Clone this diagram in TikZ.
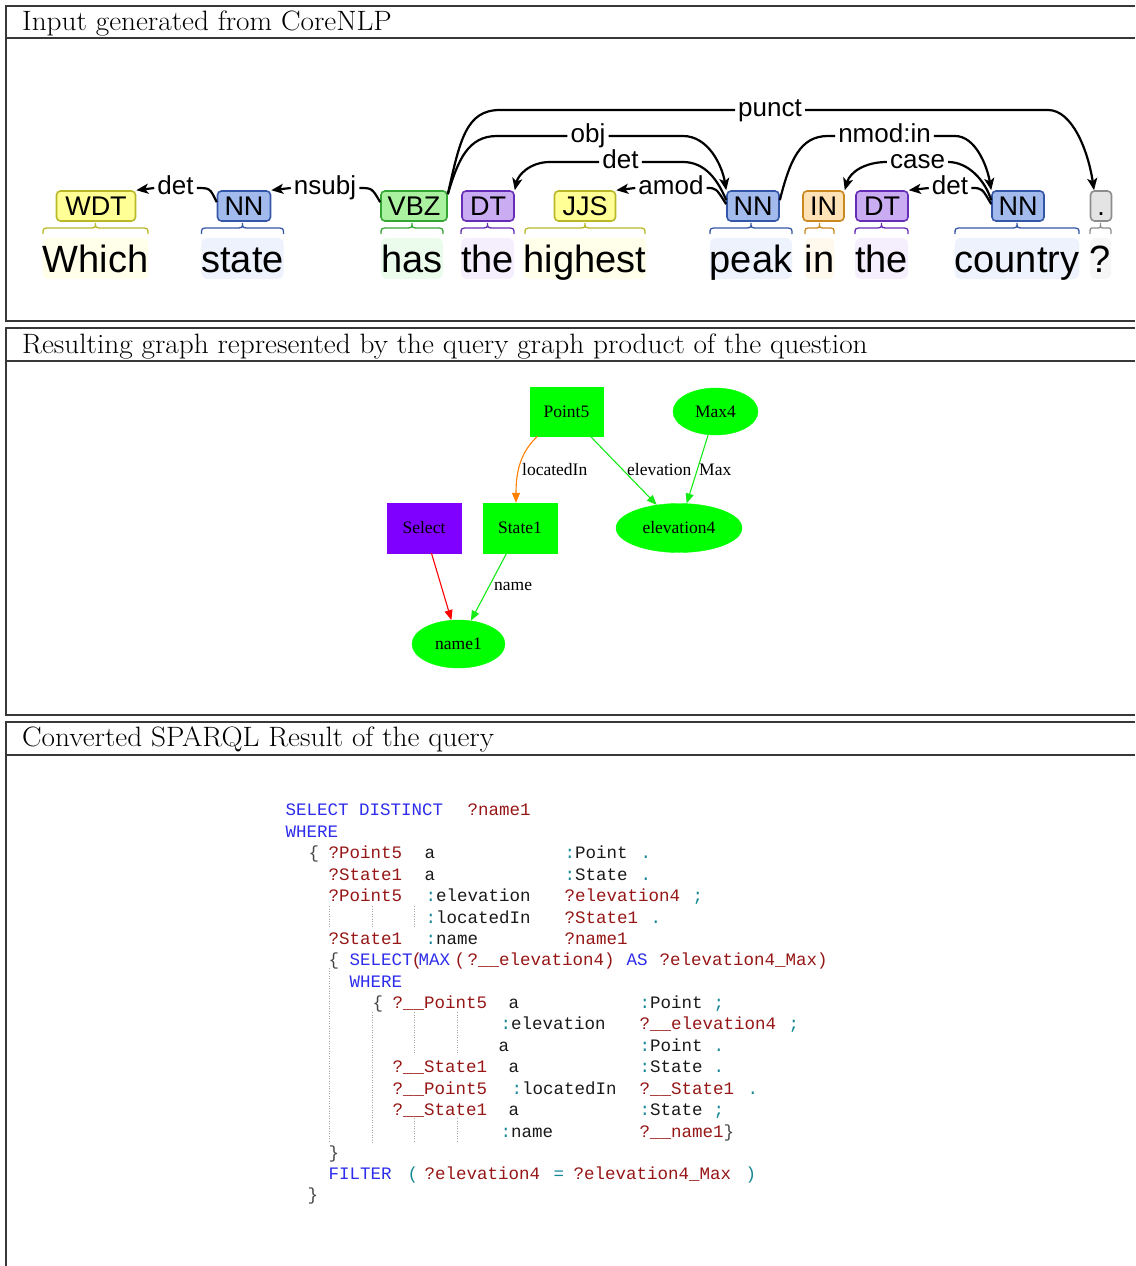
\documentclass[tikz,border=0pt]{standalone}
\usepackage{fontspec}
\newfontfamily\depfont{Liberation Sans}
\newfontfamily\gvfont{Liberation Serif}
\newfontfamily\codefont{Liberation Mono}
\usetikzlibrary{arrows.meta,shapes.geometric}

% part-of-speech tag colours (fill / border / word background)
\definecolor{tagYf}{RGB}{255,255,150}\definecolor{tagYd}{RGB}{185,185,40}\definecolor{tagYw}{RGB}{255,255,234}
\definecolor{tagBf}{RGB}{162,186,236}\definecolor{tagBd}{RGB}{52,86,166}\definecolor{tagBw}{RGB}{237,242,252}
\definecolor{tagGf}{RGB}{170,242,160}\definecolor{tagGd}{RGB}{52,166,52}\definecolor{tagGw}{RGB}{236,252,236}
\definecolor{tagPf}{RGB}{202,172,242}\definecolor{tagPd}{RGB}{102,46,182}\definecolor{tagPw}{RGB}{245,238,252}
\definecolor{tagOf}{RGB}{255,226,182}\definecolor{tagOd}{RGB}{202,136,32}\definecolor{tagOw}{RGB}{255,248,236}
\definecolor{tagKf}{RGB}{228,228,228}\definecolor{tagKd}{RGB}{140,140,140}\definecolor{tagKw}{RGB}{246,246,246}
% graph colours
\definecolor{gvgreen}{RGB}{0,255,0}
\definecolor{gvedge}{RGB}{20,235,20}
\definecolor{gvpurple}{RGB}{127,0,255}
\definecolor{gvorange}{RGB}{255,128,0}
\definecolor{gvred}{RGB}{255,0,0}
% SPARQL highlighting colours
\definecolor{codekw}{RGB}{45,45,235}
\definecolor{codevar}{RGB}{150,22,22}
\definecolor{codepn}{RGB}{20,135,150}
\definecolor{codebr}{RGB}{70,70,70}
\definecolor{codetx}{RGB}{25,25,25}

% code helpers: place a token at a given horizontal offset of its line
\newcommand\cpos[2]{\makebox[0pt][l]{\hspace*{#1pt}#2}}
\newcommand\ckw[1]{\textcolor{codekw}{#1}}
\newcommand\cvar[1]{\textcolor{codevar}{#1}}
\newcommand\cpn[1]{\textcolor{codepn}{#1}}
\newcommand\cbr[1]{\textcolor{codebr}{#1}}
% panel heading text, slightly widened
\newcommand\hdrtext[1]{\scalebox{1.045}[1]{#1}}
% curly brace under a token: left x, right x, colour, corner size
\newcommand\depbrace[4]{%
  \draw[tokbrace,#3] (#1,234) .. controls (#1,228) .. ({#1+#4},228)
    -- ({(#1+#2)/2-#4},228) .. controls ({(#1+#2)/2},228) .. ({(#1+#2)/2},223)
    .. controls ({(#1+#2)/2},228) .. ({(#1+#2)/2+#4},228)
    -- ({#2-#4},228) .. controls (#2,228) .. (#2,234);}

\begin{document}
\begin{tikzpicture}[x=1pt,y=-1pt,
  frame/.style={line width=1.3pt,draw=black!78},
  hdr/.style={anchor=base west,inner sep=0pt,font=\fontsize{28}{32}\selectfont},
  tag/.style={draw,rounded corners=4pt,line width=1.6pt,inner sep=0pt,minimum height=30pt,
    font=\depfont\fontsize{27}{27}\selectfont,text height=19.5pt,text depth=0pt},
  tagY/.style={tag,fill=tagYf,draw=tagYd},
  tagB/.style={tag,fill=tagBf,draw=tagBd},
  tagG/.style={tag,fill=tagGf,draw=tagGd},
  tagP/.style={tag,fill=tagPf,draw=tagPd},
  tagO/.style={tag,fill=tagOf,draw=tagOd},
  tagK/.style={tag,fill=tagKf,draw=tagKd},
  word/.style={rounded corners=6pt,inner sep=0pt,minimum height=41pt,
    font=\depfont\fontsize{38}{38}\selectfont,text height=32pt,text depth=5pt},
  tokbrace/.style={line width=1.3pt},
  rel/.style={inner xsep=3pt,inner ysep=0pt,font=\depfont\fontsize{26}{26}\selectfont,
    text height=13.5pt,text depth=0pt},
  arcline/.style={line width=2.2pt,black},
  arcarrow/.style={arcline,-{Stealth[length=12pt,width=10pt,inset=3pt]}},
  gnode/.style={inner sep=0pt,font=\gvfont\fontsize{17.5}{17.5}\selectfont},
  gbox/.style={gnode,rectangle,fill=gvgreen,draw=gvgreen},
  gell/.style={gnode,ellipse,fill=gvgreen,draw=gvgreen},
  glabel/.style={anchor=west,inner sep=0pt,font=\gvfont\fontsize{17.5}{17.5}\selectfont},
  gedge/.style={line width=1.1pt,-{Triangle[length=10pt,width=8pt]}},
  cline/.style={anchor=base west,inner sep=0pt,text=codetx,font=\codefont\fontsize{17.5}{20}\selectfont},
  guide/.style={draw=black!35,line width=0.8pt,dash pattern=on 1pt off 1.5pt}
]
\useasboundingbox (0,0) rectangle (1135,1266);

% ---------- panel frames ----------
\draw[frame] (1135,6) -- (6,6) -- (6,321) -- (1135,321);
\draw[frame] (6,38) -- (1135,38);
\draw[frame] (1135,328) -- (6,328) -- (6,715) -- (1135,715);
\draw[frame] (6,361) -- (1135,361);
\draw[frame] (1135,722) -- (6,722) -- (6,1266);
\draw[frame] (6,755) -- (1135,755);

\node[hdr] (h1) at (22,30) {\hdrtext{Input generated from CoreNLP}};
\node[hdr] (h2) at (22,353) {\hdrtext{Resulting graph represented by the query graph product of the question}};
\node[hdr] (h3) at (22,746) {\hdrtext{Converted SPARQL Result of the query}};

% ---------- dependency parse ----------
\node[word,fill=tagYw,minimum width=105pt] (w1) at (95.5,258.5) {Which};
\node[word,fill=tagBw,minimum width=82pt] (w2) at (242.5,258.5) {state};
\node[word,fill=tagGw,minimum width=62pt] (w3) at (412,258.5) {has};
\node[word,fill=tagPw,minimum width=53pt] (w4) at (487.5,258.5) {the};
\node[word,fill=tagYw,minimum width=120pt] (w5) at (585,258.5) {highest};
\node[word,fill=tagBw,minimum width=82pt] (w6) at (751,258.5) {peak};
\node[word,fill=tagOw,minimum width=29pt] (w7) at (819.5,258.5) {in};
\node[word,fill=tagPw,minimum width=53pt] (w8) at (881.5,258.5) {the};
\node[word,fill=tagBw,minimum width=124pt] (w9) at (1017,258.5) {country};
\node[word,fill=tagKw,minimum width=21pt] (w10) at (1100.5,258.5) {?};

\depbrace{43}{148}{tagYd}{8}
\depbrace{201.5}{283.5}{tagBd}{8}
\depbrace{381}{443}{tagGd}{8}
\depbrace{461}{514}{tagPd}{8}
\depbrace{525}{645}{tagYd}{8}
\depbrace{710}{792}{tagBd}{8}
\depbrace{805}{834}{tagOd}{6}
\depbrace{855}{908}{tagPd}{8}
\depbrace{955}{1079}{tagBd}{8}
\depbrace{1090}{1111}{tagKd}{4}

\node[tagY,minimum width=79pt] (t1) at (96,206) {WDT};
\node[tagB,minimum width=53pt] (t2) at (244,206) {NN};
\node[tagG,minimum width=66pt] (t3) at (414,206) {VBZ};
\node[tagP,minimum width=52pt] (t4) at (488,206) {DT};
\node[tagY,minimum width=61pt] (t5) at (585,206) {JJS};
\node[tagB,minimum width=52pt] (t6) at (753,206) {NN};
\node[tagO,minimum width=41pt] (t7) at (823.5,206) {IN};
\node[tagP,minimum width=52pt] (t8) at (882,206) {DT};
\node[tagB,minimum width=52pt] (t9) at (1018,206) {NN};
\node[tagK,minimum width=21pt] (t10) at (1101,206) {.};

\node[rel] (r1) at (175.5,188) {det};
\node[rel] (r2) at (325,188) {nsubj};
\node[rel] (r3) at (588,136) {obj};
\node[rel] (r4) at (620.5,162) {det};
\node[rel] (r5) at (671,188) {amod};
\node[rel] (r6) at (770,110) {punct};
\node[rel] (r7) at (884.5,136) {nmod:in};
\node[rel] (r8) at (917.5,162) {case};
\node[rel] (r9) at (950,188) {det};

% det: state -> Which
\draw[arcline] ([yshift=-12pt]t2.north west) .. controls (210,188) .. (r1.east);
\draw[arcarrow] (r1.west) -- (t1.north east);
% nsubj: has -> state
\draw[arcline] ([yshift=-12pt]t3.north west) .. controls (372,188) .. (r2.east);
\draw[arcarrow] (r2.west) -- (t2.north east);
% obj: has -> peak
\draw[arcline] ([yshift=-4pt]t3.north east) .. controls (458,160) and (468,136) .. (497,136) -- (r3.west);
\draw[arcarrow] (r3.east) -- (683,136) .. controls (708,136) and (722,165) .. (t6.north west);
% punct: has -> ?
\draw[arcline] ([yshift=-4pt]t3.north east) .. controls (460,140) and (466,110) .. (500,110) -- (r6.west);
\draw[arcarrow] (r6.east) -- (1048,110) .. controls (1072,110) and (1088,150) .. ([xshift=-7pt]t10.north);
% det: peak -> the
\draw[arcline] ([yshift=-10pt]t6.north west) .. controls (718,180) and (705,162) .. (683,162) -- (r4.east);
\draw[arcarrow] (r4.west) -- (550,162) .. controls (530,162) and (518,175) .. (t4.north east);
% amod: peak -> highest
\draw[arcline] ([yshift=-14pt]t6.north west) .. controls (716,188) .. (r5.east);
\draw[arcarrow] (r5.west) -- (t5.north east);
% nmod:in: peak -> country
\draw[arcline] ([yshift=-10pt]t6.north east) .. controls (790,160) and (800,136) .. (828,136) -- (r7.west);
\draw[arcarrow] (r7.east) -- (955,136) .. controls (975,136) and (987,165) .. (t9.north west);
% case: country -> in
\draw[arcline] ([yshift=-10pt]t9.north west) .. controls (985,180) and (968,162) .. (r8.east);
\draw[arcarrow] (r8.west) .. controls (865,162) and (850,172) .. (t7.north east);
% det: country -> the
\draw[arcline] ([yshift=-14pt]t9.north west) .. controls (982,188) .. (r9.east);
\draw[arcarrow] (r9.west) -- (t8.north east);

% ---------- query graph ----------
\node[gbox,minimum width=73pt,minimum height=49pt] (pt) at (566.5,411.5) {Point5};
\node[gell,minimum width=85pt,minimum height=47pt] (mx) at (715.5,411.5) {Max4};
\node[gbox,fill=gvpurple,draw=gvpurple,minimum width=74pt,minimum height=50pt] (sel) at (424,528) {Select};
\node[gbox,minimum width=74pt,minimum height=50pt] (st) at (520,528) {State1};
\node[gell,minimum width=126pt,minimum height=49pt] (el) at (679,528) {elevation4};
\node[gell,minimum width=93pt,minimum height=48pt] (nm) at (458.5,644) {name1};

\draw[gedge,gvorange] ([xshift=-29pt]pt.south) .. controls (521,452) and (516,470) .. ([xshift=-4pt]st.north);
\draw[gedge,gvedge] (pt) -- (el);
\draw[gedge,gvedge] (mx) -- (el);
\draw[gedge,gvred] (sel) -- (nm);
\draw[gedge,gvedge] (st) -- (nm);

\node[glabel] (lb1) at (522,469.5) {locatedIn};
\node[glabel] (lb2) at (627,469.5) {elevation};
\node[glabel] (lb3) at (699,469.5) {Max};
\node[glabel] (lb4) at (494,586) {name};

% ---------- SPARQL ----------
\draw[guide] (329,906) -- (329,927);
\draw[guide] (372,906) -- (372,927);
\draw[guide] (414,906) -- (414,927);
\draw[guide] (329,968) -- (329,1143);
\draw[guide] (372,1012) -- (372,1143);
\draw[guide] (414,1012) -- (414,1054);
\draw[guide] (414,1118) -- (414,1143);
\draw[guide] (457,1012) -- (457,1054);
\draw[guide] (457,1118) -- (457,1143);

\node[cline] (q1) at (0,815) {\cpos{285}{\ckw{SELECT DISTINCT}}\cpos{467}{\cvar{?name1}}};
\node[cline] (q2) at (0,837) {\cpos{285}{\ckw{WHERE}}};
\node[cline] (q3) at (0,858) {\cpos{308}{\cbr{\{}}\cpos{328}{\cvar{?Point5}}\cpos{424}{a}\cpos{564}{\cpn{:}Point}\cpos{640}{\cpn{.}}};
\node[cline] (q4) at (0,880) {\cpos{328}{\cvar{?State1}}\cpos{424}{a}\cpos{564}{\cpn{:}State}\cpos{640}{\cpn{.}}};
\node[cline] (q5) at (0,901) {\cpos{328}{\cvar{?Point5}}\cpos{425}{\cpn{:}elevation}\cpos{564}{\cvar{?elevation4}}\cpos{692}{\cpn{;}}};
\node[cline] (q6) at (0,923) {\cpos{425}{\cpn{:}locatedIn}\cpos{564}{\cvar{?State1}}\cpos{650}{\cpn{.}}};
\node[cline] (q7) at (0,944) {\cpos{328}{\cvar{?State1}}\cpos{425}{\cpn{:}name}\cpos{564}{\cvar{?name1}}};
\node[cline] (q8) at (0,965) {\cpos{328}{\cbr{\{}}\cpos{349}{\ckw{SELECT}}\cpos{411}{\cvar{(}}\cpos{418}{\ckw{MAX}}\cpos{454}{\cvar{(}}\cpos{467}{\cvar{?\_\_elevation4)}}\cpos{626}{\ckw{AS}}\cpos{659}{\cvar{?elevation4\_Max)}}};
\node[cline] (q9) at (0,987) {\cpos{349}{\ckw{WHERE}}};
\node[cline] (q10) at (0,1008) {\cpos{372}{\cbr{\{}}\cpos{392}{\cvar{?\_\_Point5}}\cpos{508}{a}\cpos{639}{\cpn{:}Point}\cpos{713}{\cpn{;}}};
\node[cline] (q11) at (0,1029) {\cpos{500}{\cpn{:}elevation}\cpos{639}{\cvar{?\_\_elevation4}}\cpos{788}{\cpn{;}}};
\node[cline] (q12) at (0,1051) {\cpos{498}{a}\cpos{639}{\cpn{:}Point}\cpos{713}{\cpn{.}}};
\node[cline] (q13) at (0,1072) {\cpos{392}{\cvar{?\_\_State1}}\cpos{508}{a}\cpos{639}{\cpn{:}State}\cpos{713}{\cpn{.}}};
\node[cline] (q14) at (0,1094) {\cpos{392}{\cvar{?\_\_Point5}}\cpos{511}{\cpn{:}locatedIn}\cpos{639}{\cvar{?\_\_State1}}\cpos{747}{\cpn{.}}};
\node[cline] (q15) at (0,1115) {\cpos{392}{\cvar{?\_\_State1}}\cpos{508}{a}\cpos{639}{\cpn{:}State}\cpos{713}{\cpn{;}}};
\node[cline] (q16) at (0,1137) {\cpos{500}{\cpn{:}name}\cpos{639}{\cvar{?\_\_name1}\cbr{\}}}};
\node[cline] (q17) at (0,1158) {\cpos{328}{\cbr{\}}}};
\node[cline] (q18) at (0,1179) {\cpos{328}{\ckw{FILTER}}\cpos{407}{\cpn{(}}\cpos{424}{\cvar{?elevation4}}\cpos{553}{\cpn{=}}\cpos{573}{\cvar{?elevation4\_Max}}\cpos{745}{\cpn{)}}};
\node[cline] (q19) at (0,1200) {\cpos{307}{\cbr{\}}}};
\end{tikzpicture}
\end{document}
